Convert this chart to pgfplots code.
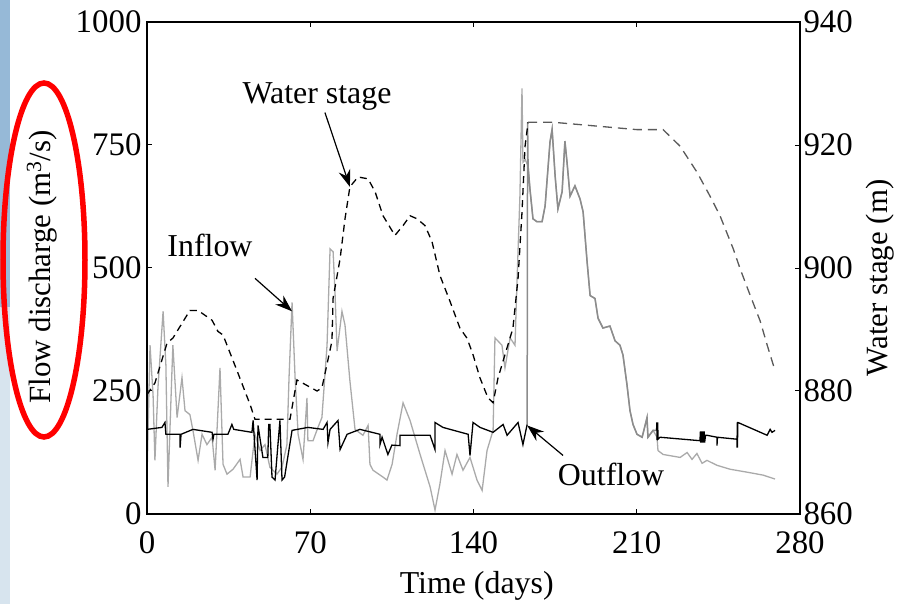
\documentclass[border=0pt]{standalone}
\usepackage{graphicx}
\usepackage{pgfplots}
\pgfplotsset{compat=1.18}
\usepackage{fontspec}
\setmainfont{Liberation Serif}
\usetikzlibrary{arrows.meta}
\newcommand\lbl{\fontsize{32}{36}\selectfont}
\newcommand\tck{\fontsize{33}{36}\selectfont}
\definecolor{inflowc}{RGB}{170,170,170}
\definecolor{overc}{RGB}{140,140,140}
\definecolor{stagegray}{RGB}{90,90,90}
\definecolor{bgblue}{RGB}{150,185,215}
\definecolor{bglight}{RGB}{215,228,238}

\pgfplotstableread{
t v
0 75
1.3 343
2.6 242
3.4 109
4.7 257
6.9 412
8.1 303
9.0 55
10.7 291
11.1 343
12.9 196
15.0 277
16.3 210
18.4 202
19.7 170
21.9 109
23.6 162
25.7 141
27.9 156
29.2 89
31.3 297
32.6 101
34.3 81
36.9 91
39.9 111
41.2 75
44.2 75
46.3 162
48.5 129
50.6 141
52.7 95
55.7 81
57.9 95
60.0 141
60.9 277
62.2 430
63.5 277
64.8 162
66.9 111
68.6 236
69.0 149
71.2 149
73.3 176
75.0 196
77.2 343
78.5 539
79.8 533
80.6 453
81.5 331
83.6 412
84.9 384
87.0 271
89.2 172
92.6 160
94.8 180
95.6 101
96.9 89
101.2 75
102.9 69
105.1 101
107.2 162
109.8 226
112.8 190
117.1 121
121.4 55
123.5 8
125.6 61
127.8 129
130.8 81
132.9 121
135.5 89
138.5 115
141.5 69
143.7 48
145.8 129
148.4 170
149.2 358
152.2 343
153.5 297
155.7 358
157.8 343
158.7 479
159.9 646
160.8 865
161.2 715
162.2 720
163.4 707
164.2 661
165.5 600
167.2 594
169.4 594
170.7 626
172.8 756
173.7 782
175.0 687
176.2 620
178.0 655
179.2 758
180.1 715
181.4 646
183.5 667
185.7 640
187.0 614
188.7 513
190.0 444
192.1 438
193.4 398
195.5 378
198.5 382
200.7 352
202.8 343
204.1 323
205.8 263
207.1 210
208.4 182
210.1 162
212.3 156
214.4 196
214.8 156
217.0 170
218.7 156
219.1 129
221.3 121
228.6 115
231.6 125
233.7 111
235.8 123
238.0 103
240.1 109
244.4 99
250.0 91
257.3 85
264.2 79
269.3 71
}\inflow

\pgfplotstableread{
t v
0 172
6.4 176
7.7 186
8.1 162
14.2 162
14.2 135
14.6 162
19.7 172
27.9 166
28.3 152
28.7 162
34.7 162
36.4 182
37.2 172
45.0 166
45.5 190
47.2 69
47.6 180
49.7 115
51.8 115
52.2 182
52.7 182
53.6 75
54.9 69
57.0 190
57.9 69
59.0 75
62.2 170
69.0 176
75.5 172
77.2 186
77.6 145
78.5 172
81.9 190
82.8 131
85.8 162
91.3 172
99.9 162
99.9 141
100.8 156
103.3 121
105.0 140
108.5 139
108.5 160
121.4 160
123.5 131
123.5 186
126.9 176
137.7 162
138.5 119
139.8 186
142.8 176
148.4 166
152.7 182
154.4 160
159.1 186
161.2 141
163.0 182
}\outflowA

\pgfplotstableread{
t v
163.0 182
163.2 796
163.4 707
164.2 661
165.5 600
167.2 594
169.4 594
170.7 626
172.8 756
173.7 782
175.0 687
176.2 620
178.0 655
179.2 758
180.1 715
181.4 646
183.5 667
185.7 640
187.0 614
188.7 513
190.0 444
192.1 438
193.4 398
195.5 378
198.5 382
200.7 352
202.8 343
204.1 323
205.8 263
207.1 210
208.4 182
210.1 162
212.3 156
214.4 196
214.8 156
217.0 170
218.5 170
}\outflowB

\pgfplotstableread{
t v
218.5 170
218.6 186
218.7 150
218.8 186
218.9 150
219.0 186
219.1 152
220.0 156
237.1 149
237.3 168
237.5 145
237.7 168
237.9 145
238.1 168
238.3 145
238.5 168
238.7 145
238.9 168
239.1 145
239.5 160
240.1 160
244.4 156
244.4 139
244.6 156
253.0 152
253.0 135
253.1 186
253.2 135
253.3 186
253.4 186
265.9 160
267.2 172
268.0 166
269.3 170
}\outflowC

\pgfplotstableread{
t s
0 879.4
3.4 881.3
8.6 887.8
11.1 888.6
18.4 893.1
21.9 893.1
27.9 891.5
30.4 889.7
32.6 889.1
38.6 883.3
44.2 877.8
46.3 875.4
61.3 875.4
64.3 881.8
72.9 880.0
75.0 880.5
79.3 888.1
79.8 895.1
82.8 901.5
84.9 908.0
87.0 913.2
90.5 914.8
94.8 914.5
97.8 912.4
101.2 908.5
106.3 905.3
109.8 906.9
112.8 908.5
115.8 908.0
119.2 906.9
122.2 904.3
125.6 898.8
129.9 894.6
134.2 890.2
137.2 888.6
139.8 885.9
142.8 882.1
146.2 878.9
148.4 878.1
150.5 882.1
152.7 884.9
156.9 890.2
159.1 898.3
160.8 909.1
162.1 919.8
163.4 923.7
}\stageA

\pgfplotstableread{
t s
163.4 923.7
174.1 923.7
210.1 922.5
221.3 922.5
228.6 919.8
235.8 915.6
241.4 911.7
245.7 908.5
251.3 903.2
254.3 899.9
258.6 895.6
262.9 891.4
265.9 887.5
269.3 883.3
}\stageB

\begin{document}
\begin{tikzpicture}
\path[use as bounding box] (0,0) rectangle (899bp,604bp);
\fill[bgblue] (0,297bp) rectangle (10bp,604bp);
\fill[bglight] (0,0) rectangle (10bp,297bp);
\begin{axis}[
  at={(147bp,90bp)}, anchor=south west,
  scale only axis, width=653bp, height=492bp,
  xmin=0, xmax=280, ymin=0, ymax=1000,
  xtick={0,70,140,210,280}, ytick={0,250,500,750,1000},
  ytick pos=left,
  tick align=inside, major tick length=5bp,
  tick style={line width=1bp, black},
  axis line style={line width=1.2bp},
  tick label style={font=\tck},
  xticklabel style={yshift=-14bp},
  yticklabel style={xshift=-2bp},
  /pgf/number format/assume math mode=true,
  /pgf/number format/1000 sep={},
  xlabel={Time (days)},
  xlabel style={font=\lbl, at={(axis description cs:0.505,-0.146)}, anchor=center},
  ylabel={\fontsize{31}{34}\selectfont Flow discharge (m\textsuperscript{3}/s)},
  ylabel style={at={(axis description cs:-0.161,0.502)}, anchor=center, rotate=0},
  clip=false,
]
\addplot[inflowc, line width=1.3bp] table[x=t,y=v] {\inflow};
\addplot[overc, line width=1.5bp] table[x=t,y=v] {\outflowB};
\addplot[black, line width=1.3bp] table[x=t,y=v] {\outflowA};
\addplot[black, line width=1.3bp] table[x=t,y=v] {\outflowC};
\draw[line width=1.2bp, -{Stealth[length=17bp,width=12bp]}] (axis cs:76.3,816) -- (axis cs:87.0,665);
\draw[line width=1.2bp, -{Stealth[length=17bp,width=12bp]}] (axis cs:46.3,479) -- (axis cs:62.2,412);
\draw[line width=1.2bp, -{Stealth[length=17bp,width=12bp]}] (axis cs:178.4,119) -- (axis cs:163.0,180);
\node[font=\lbl] at (axis cs:72.9,848) {Water stage};
\node[font=\lbl] at (axis cs:27.0,545) {Inflow};
\node[font=\lbl] at (axis cs:199.0,81) {Outflow};
\end{axis}
\begin{axis}[
  at={(147bp,90bp)}, anchor=south west,
  scale only axis, width=653bp, height=492bp,
  xmin=0, xmax=280, ymin=860, ymax=940,
  hide x axis,
  ytick={860,880,900,920,940},
  ytick pos=right, yticklabel pos=right,
  tick align=inside, major tick length=5bp,
  tick style={line width=1bp, black},
  axis line style={line width=1.2bp},
  tick label style={font=\tck},
  /pgf/number format/assume math mode=true,
  /pgf/number format/1000 sep={},
  ylabel={\fontsize{31}{34}\selectfont Water stage (m)},
  ylabel style={at={(axis description cs:1.1225,0.48)}, anchor=center, rotate=0},
]
\addplot[black, line width=1.3bp, dash pattern=on 7bp off 5bp] table[x=t,y=s] {\stageA};
\addplot[stagegray, line width=1.3bp, dash pattern=on 9bp off 6bp] table[x=t,y=s] {\stageB};
\end{axis}
\draw[red, line width=5.5bp] (44bp,344bp) ellipse [x radius=41bp, y radius=177bp];
\end{tikzpicture}
\end{document}
